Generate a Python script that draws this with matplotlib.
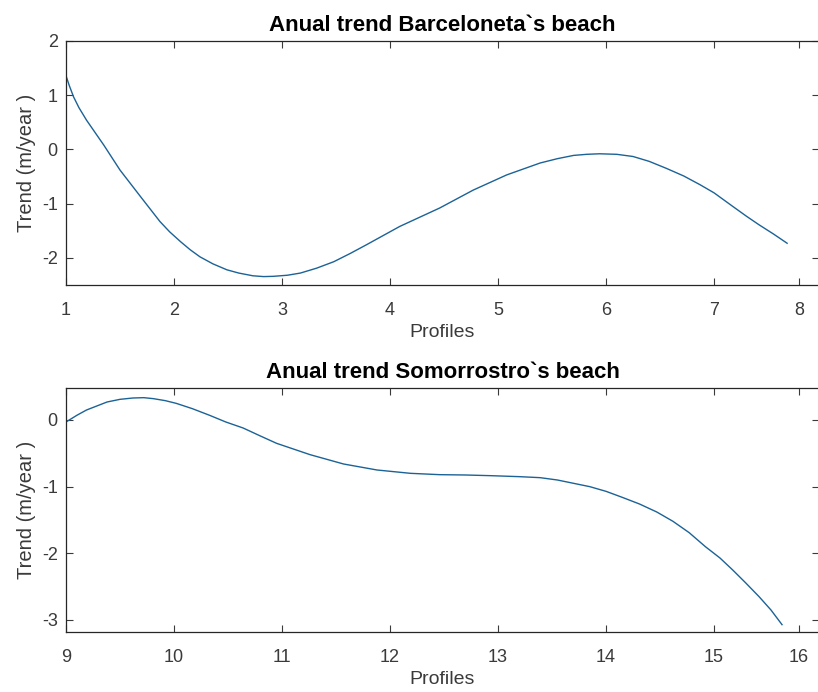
import numpy as np
import matplotlib
matplotlib.use('Agg')
import matplotlib.pyplot as plt

plt.rcParams['font.family'] = ['Liberation Sans', 'DejaVu Sans']
plt.rcParams['axes.unicode_minus'] = False

# Barceloneta (profiles 1-8)
barc_x = [1.00, 1.03, 1.07, 1.12, 1.19, 1.27, 1.35, 1.50, 1.69, 1.87, 1.96, 2.06,
          2.15, 2.24, 2.36, 2.49, 2.60, 2.73, 2.83, 2.92, 3.05, 3.17, 3.32, 3.48,
          3.63, 3.78, 4.09, 4.46, 4.77, 5.08, 5.39, 5.55, 5.70, 5.82, 5.94, 6.10,
          6.25, 6.40, 6.56, 6.72, 6.87, 7.00, 7.22, 7.38, 7.53, 7.70, 7.86]
barc_y = [1.36, 1.18, 0.97, 0.77, 0.54, 0.31, 0.08, -0.38, -0.87, -1.33, -1.52, -1.70,
          -1.85, -1.98, -2.11, -2.22, -2.28, -2.33, -2.345, -2.34, -2.32, -2.28, -2.19, -2.07,
          -1.92, -1.76, -1.42, -1.08, -0.75, -0.47, -0.25, -0.17, -0.11, -0.09, -0.08, -0.09,
          -0.13, -0.22, -0.35, -0.49, -0.65, -0.80, -1.05, -1.23, -1.39, -1.56, -1.73]

# Somorrostro (profiles 9-16)
somo_x = [9.00, 9.10, 9.19, 9.38, 9.50, 9.62, 9.72, 9.81, 9.92, 10.02, 10.17, 10.33,
          10.48, 10.64, 10.80, 10.95, 11.26, 11.57, 11.88, 12.19, 12.46, 12.70, 12.93, 13.20,
          13.39, 13.55, 13.70, 13.85, 14.00, 14.15, 14.31, 14.47, 14.62, 14.77, 14.92, 15.07,
          15.22, 15.37, 15.53, 15.67, 15.80]
somo_y = [-0.03, 0.07, 0.15, 0.27, 0.31, 0.33, 0.335, 0.32, 0.29, 0.25, 0.17, 0.07,
          -0.03, -0.12, -0.24, -0.35, -0.52, -0.66, -0.75, -0.80, -0.82, -0.825, -0.835, -0.85,
          -0.865, -0.90, -0.95, -1.00, -1.07, -1.16, -1.26, -1.38, -1.52, -1.69, -1.90, -2.07,
          -2.25, -2.44, -2.65, -2.85, -3.07]

barc_ticks = [1, 2, 3, 4, 5, 6, 7, 8]
somo_ticks = [9, 10, 11, 12, 13, 14, 15, 16]
barc_yticks = [-2, -1, 0, 1, 2]
somo_yticks = [-3, -2, -1, 0]

titles = ['Anual trend Barceloneta`s beach', 'Anual trend Somorrostro`s beach']

# the source image is squeezed after the second to last tick
SQUEEZE = 85 / 108


def make_scale(brk):
    def fwd(x):
        x = np.asarray(x, dtype=float)
        return np.where(x <= brk, x, brk + (x - brk) * SQUEEZE)

    def inv(x):
        x = np.asarray(x, dtype=float)
        return np.where(x <= brk, x, brk + (x - brk) / SQUEEZE)
    return fwd, inv


fig = plt.figure(figsize=(8.18, 6.92), dpi=100)
W, H = 818, 692
ax1 = fig.add_axes([66 / W, 1 - 285 / H, 753 / W, 244 / H])
ax2 = fig.add_axes([66 / W, 1 - 632 / H, 753 / W, 244 / H])

panels = [
    (ax1, barc_x, barc_y, barc_ticks, barc_yticks, (1, 8.235), (-2.5, 2), 7),
    (ax2, somo_x, somo_y, somo_ticks, somo_yticks, (9, 16.235), (-3.18, 0.48), 15),
]

for ax, xs, ys, xt, yt, xl, yl, brk in panels:
    ax.set_xscale('function', functions=make_scale(brk))
    ax.plot(xs, ys, color='#1b6296', lw=1.0)
    ax.set_xlim(*xl)
    ax.set_ylim(*yl)
    ax.set_xticks(xt)
    ax.set_xticklabels([str(t) for t in xt])
    ax.set_yticks(yt)
    ax.tick_params(direction='in', top=True, right=True, length=5, width=0.8,
                   labelsize=13, colors='#3a3a3a')
    ax.tick_params(axis='x', pad=12)
    ax.tick_params(axis='y', pad=6)
    ax.minorticks_off()
    for s in ax.spines.values():
        s.set_linewidth(0.9)
        s.set_color('#262626')
    ax.set_xlabel('Profiles', fontsize=14, color='#3a3a3a', labelpad=4)
    ax.set_ylabel('Trend (m/year )', fontsize=14.5, color='#3a3a3a', labelpad=4)

ax1.set_title(titles[0], fontsize=16, fontweight='bold', pad=7)
ax2.set_title(titles[1], fontsize=16, fontweight='bold', pad=7)

fig.savefig('out.png', dpi=100)
